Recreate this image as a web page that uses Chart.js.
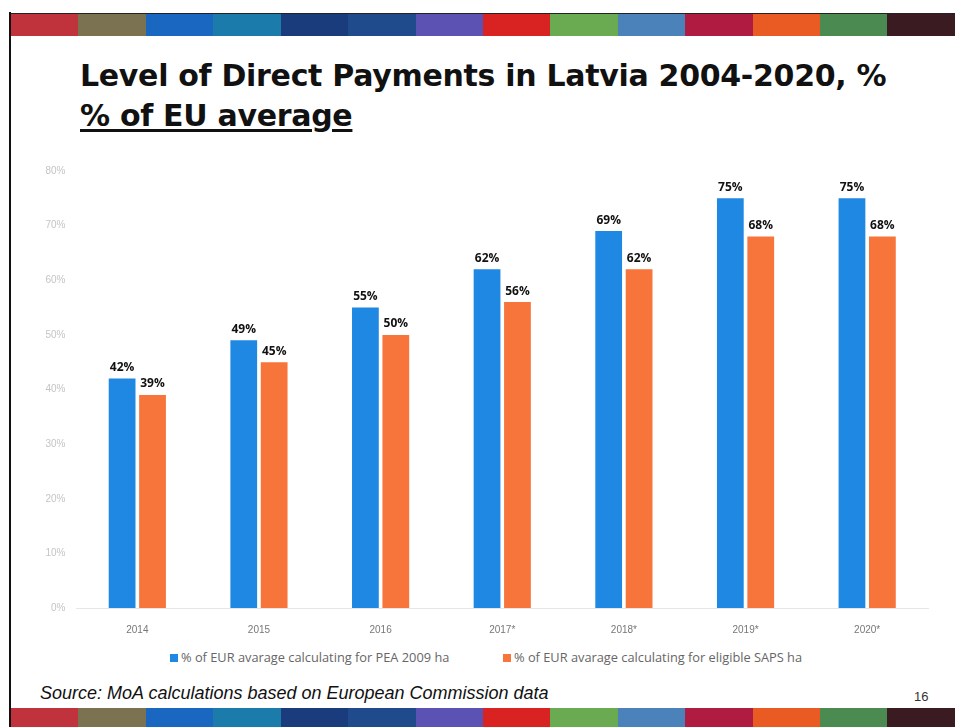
<!DOCTYPE html>
<html>
<head>
<meta charset="utf-8">
<script src="https://cdn.jsdelivr.net/npm/chart.js@4"></script>
<style>
  body { margin: 0; background: #fff; }
  #slide { position: relative; width: 955px; height: 727px; overflow: hidden; background: #fff; }
  .band { position: absolute; left: 11px; right: 0; height: 22px; display: flex; }
  .band div { height: 100%; }
  #bandTop { top: 13px; border-top: 1px solid #222; }
  #bandBottom { top: 708px; height: 19px; }
  #frame { position: absolute; left: 9px; top: 12px; width: 2px; height: 715px; background: #111; }
  #title { position: absolute; left: 80px; top: 56px; font-family: "DejaVu Sans", sans-serif; font-weight: bold;
           font-size: 30px; line-height: 40px; letter-spacing: -0.3px; color: #111; }
  #title u { text-decoration-thickness: 3px; text-underline-offset: 3px; }
  #chartBox { position: absolute; left: 0; top: 160px; width: 955px; height: 484px; }
  #legend { position: absolute; top: 648px; left: 0; width: 955px; font-family: "Open Sans", sans-serif;
            font-size: 12.8px; color: #666; }
  #legend span.item { position: absolute; white-space: nowrap; }
  #legend i { display: inline-block; width: 8px; height: 8px; margin-right: 3px; }
  #source { position: absolute; left: 40px; top: 683px; font-family: "Liberation Sans", sans-serif; font-style: italic;
            font-size: 18px; color: #111; }
  #pageNo { position: absolute; left: 914px; top: 689px; font-family: "Liberation Sans", sans-serif; font-size: 13px; color: #333; }
</style>
</head>
<body>
<div id="slide">
  <div id="bandTop" class="band"></div>
  <div id="bandBottom" class="band"></div>
  <div id="frame"></div>
  <div id="title">Level of Direct Payments in Latvia 2004-2020, %<br><u>% of EU average</u></div>
  <div id="chartBox"><canvas id="chart"></canvas></div>
  <div id="legend"></div>
  <div id="source">Source: MoA calculations based on European Commission data</div>
  <div id="pageNo">16</div>
</div>
<script>
const years = ["2014", "2015", "2016", "2017*", "2018*", "2019*", "2020*"];
const peaShare = [42, 49, 55, 62, 69, 75, 75];
const sapsShare = [39, 45, 50, 56, 62, 68, 68];
const yTicks = [0, 10, 20, 30, 40, 50, 60, 70, 80];
const seriesNames = [
  "% of EUR avarage calculating for PEA 2009 ha",
  "% of EUR avarage calculating for eligible SAPS ha",
];
const seriesColors = ["#1f88e2", "#f7743a"];
const bandColors = ["#c0323c", "#7b7251", "#1a67c2", "#1b7bab", "#1a3b7c", "#1f4b8c", "#5b52b3",
                    "#d92222", "#6aab52", "#4b82ba", "#b01b42", "#e95b22", "#4b8b52", "#3b1b22"];

// slide decoration bands
["bandTop", "bandBottom"].forEach((id) => {
  const band = document.getElementById(id);
  bandColors.forEach((c) => {
    const d = document.createElement("div");
    d.style.flex = "1";
    d.style.background = c;
    band.appendChild(d);
  });
});

// legend in the slide, laid out like the original deck
const legendPos = [170, 503];
const legend = document.getElementById("legend");
seriesNames.forEach((name, i) => {
  const s = document.createElement("span");
  s.className = "item";
  s.style.left = legendPos[i] + "px";
  s.innerHTML = `<i style="background:${seriesColors[i]}"></i>${name}`;
  legend.appendChild(s);
});

// value labels above each bar
const barLabels = {
  id: "barLabels",
  afterDatasetsDraw(chart) {
    const ctx = chart.ctx;
    ctx.save();
    ctx.font = "bold 12px 'Open Sans', sans-serif";
    ctx.fillStyle = "#111";
    ctx.textAlign = "center";
    ctx.textBaseline = "bottom";
    chart.data.datasets.forEach((ds, i) => {
      chart.getDatasetMeta(i).data.forEach((bar, j) => {
        ctx.fillText(ds.data[j] + "%", bar.x, bar.y - 5);
      });
    });
    ctx.restore();
  },
};

new Chart(document.getElementById("chart"), {
  type: "bar",
  data: {
    labels: years,
    datasets: [
      { label: seriesNames[0], data: peaShare, backgroundColor: seriesColors[0] },
      { label: seriesNames[1], data: sapsShare, backgroundColor: seriesColors[1] },
    ],
  },
  options: {
    responsive: true,
    maintainAspectRatio: false,
    animation: false,
    layout: { padding: { top: 11, right: 27, left: 0, bottom: 0 } },
    datasets: { bar: { categoryPercentage: 0.5, barPercentage: 0.88 } },
    scales: {
      x: {
        grid: { display: false },
        border: { display: true, color: "#e6e6e6" },
        ticks: { color: "#777", font: { family: "Liberation Sans", size: 10 }, padding: 8 },
      },
      y: {
        min: 0,
        max: 80,
        afterBuildTicks: (axis) => { axis.ticks = yTicks.map((v) => ({ value: v })); },
        afterFit: (axis) => { axis.width = 76.5; },
        grid: { display: false },
        border: { display: false },
        ticks: {
          color: "#c4c4c4",
          font: { family: "Liberation Sans", size: 10 },
          padding: 3,
          callback: (v) => v + "%",
        },
      },
    },
    plugins: {
      legend: { display: false },
      tooltip: { enabled: false },
    },
  },
  plugins: [barLabels],
});
</script>
</body>
</html>
